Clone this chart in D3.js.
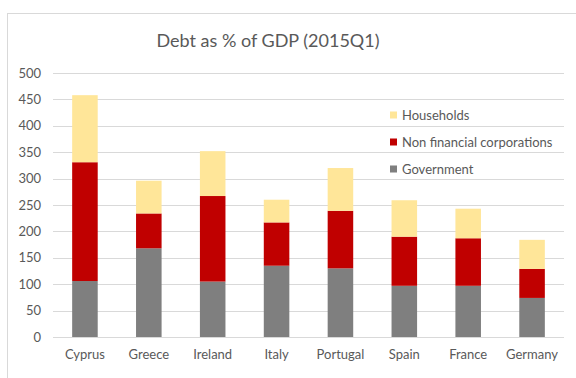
<!DOCTYPE html>
<html>
<head>
<meta charset="utf-8">
<script src="https://cdn.jsdelivr.net/npm/d3@7"></script>
<style>
  body { margin: 0; background: #fff; }
  text { font-family: Lato, "Open Sans", sans-serif; fill: #595959; }
</style>
</head>
<body>
<div id="main"></div>
<script>
// data
let countries = ['Cyprus', 'Greece', 'Ireland', 'Italy', 'Portugal', 'Spain', 'France', 'Germany'];
let government = [106, 168, 105, 135, 130, 97, 97, 74];
let corporations = [225, 66, 162, 82, 109, 93, 90, 55];
let households = [127, 62, 85, 43, 81, 69, 56, 55];
let yTicks = [0, 50, 100, 150, 200, 250, 300, 350, 400, 450, 500];

let seriesKeys = ['Government', 'Non financial corporations', 'Households'];
let seriesColors = ['#7f7f7f', '#c00000', '#ffe699'];

let width = 576, height = 378;
let margin = {top: 73, right: 12, bottom: 41, left: 53};

let svg = d3.select('#main').append('svg')
  .attr('width', width)
  .attr('height', height);

// chart frame
svg.append('rect')
  .attr('x', 7.5).attr('y', 13.5)
  .attr('width', width).attr('height', height)
  .attr('fill', 'none')
  .attr('stroke', '#d9d9d9');

svg.append('text')
  .attr('x', 268).attr('y', 47)
  .attr('text-anchor', 'middle')
  .style('font-size', '18px')
  .text('Debt as % of GDP (2015Q1)');

let table = countries.map(function(c, i) {
  return {
    country: c,
    'Government': government[i],
    'Non financial corporations': corporations[i],
    'Households': households[i]
  };
});
let stacked = d3.stack().keys(seriesKeys)(table);

let x = d3.scaleBand()
  .domain(countries)
  .range([margin.left, width - margin.right])
  .paddingInner(0.6)
  .paddingOuter(0.3);

let y = d3.scaleLinear()
  .domain([0, 500])
  .range([height - margin.bottom, margin.top]);

// gridlines
svg.append('g')
  .selectAll('line')
  .data(yTicks)
  .enter().append('line')
  .attr('x1', margin.left)
  .attr('x2', width - margin.right)
  .attr('y1', function(d) { return Math.round(y(d)) + 0.5; })
  .attr('y2', function(d) { return Math.round(y(d)) + 0.5; })
  .attr('stroke', '#d9d9d9');

// y axis labels
let yAxis = svg.append('g')
  .attr('transform', 'translate(' + (margin.left - 12) + ',0)')
  .call(d3.axisLeft(y).tickValues(yTicks).tickSize(0).tickPadding(0));
yAxis.select('.domain').remove();
yAxis.selectAll('text').style('font-size', '13px').attr('fill', '#595959').style('font-family', 'Lato, "Open Sans", sans-serif');

// bars
svg.append('g')
  .selectAll('g')
  .data(stacked)
  .enter().append('g')
  .attr('fill', function(d, i) { return seriesColors[i]; })
  .selectAll('rect')
  .data(function(d) { return d; })
  .enter().append('rect')
  .attr('x', function(d) { return x(d.data.country); })
  .attr('width', x.bandwidth())
  .attr('y', function(d) { return y(d[1]); })
  .attr('height', function(d) { return y(d[0]) - y(d[1]); });

// x axis labels
let xAxis = svg.append('g')
  .attr('transform', 'translate(0,' + (height - margin.bottom) + ')')
  .call(d3.axisBottom(x).tickSize(0).tickPadding(13));
xAxis.select('.domain').remove();
xAxis.selectAll('text').style('font-size', '13px').attr('fill', '#595959').style('font-family', 'Lato, "Open Sans", sans-serif');

// legend
let legendOrder = [2, 1, 0];
let legend = svg.append('g')
  .selectAll('g')
  .data(legendOrder)
  .enter().append('g')
  .attr('transform', function(d, i) { return 'translate(390,' + (115 + i * 27) + ')'; });

legend.append('rect')
  .attr('x', 0).attr('y', -3.5)
  .attr('width', 7).attr('height', 7)
  .attr('fill', function(d) { return seriesColors[d]; });

legend.append('text')
  .attr('x', 12).attr('y', 0)
  .attr('dy', '0.35em')
  .style('font-size', '13px')
  .text(function(d) { return seriesKeys[d]; });
</script>
</body>
</html>
